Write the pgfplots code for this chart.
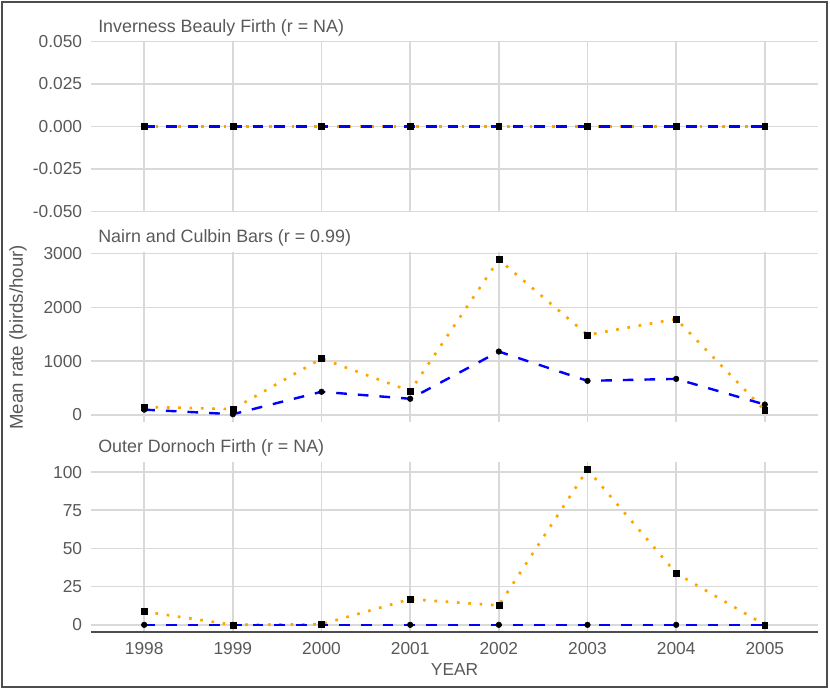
\documentclass[border=0pt]{standalone}
\usepackage{fontspec}
\setmainfont{Liberation Sans}
\usepackage{pgfplots}
\pgfplotsset{compat=1.18}
\definecolor{txtgray}{HTML}{595959}
\definecolor{gridgray}{HTML}{D9D9D9}
\definecolor{lorange}{HTML}{FFA500}
\definecolor{lblue}{HTML}{0000FF}
\definecolor{framegray}{HTML}{4D4D4D}
\pgfplotsset{
  panel/.style={
    scale only axis, width=545.25pt, height=127.5pt,
    anchor=north west,
    xmin=1997.4, xmax=2005.6,
    xtick={1998,1999,2000,2001,2002,2003,2004,2005},
    grid=major, grid style={gridgray, line width=1.2pt},
    axis line style={draw=none},
    major tick length=0pt, tick style={draw=none},
    /pgf/number format/assume math mode=true,
    /pgf/number format/1000 sep={},
    scaled ticks=false,
    ticklabel style={font=\fontsize{13}{15}\selectfont, text=txtgray},
    yticklabel style={anchor=east, inner sep=0pt, xshift=-6.5pt},
    xticklabel style={anchor=north, inner sep=0pt, yshift=-7.5pt},
    every axis title shift=0pt,
    title style={at={(0,1)}, anchor=base west, inner sep=0pt, xshift=5.25pt, yshift=7pt,
      font=\fontsize{13.4}{15}\selectfont, text=txtgray},
  },
  orangeline/.style={lorange, line width=2pt, dash pattern=on 2pt off 6.5pt},
  blueline/.style={lblue, line width=1.8pt, dash pattern=on 8pt off 8.25pt},
  circmarks/.style={only marks, mark=*, mark size=2.1pt, black},
  sqmarks/.style={only marks, mark=square*, mark size=2.2pt, black},
}
\begin{document}
\begin{tikzpicture}
\path[use as bounding box] (0,0) rectangle (622.5pt,-517.5pt);
\draw[framegray, line width=0.9pt] (1.5pt,-1.5pt) rectangle (620.25pt,-515.25pt);

% Panel 1
\begin{axis}[panel, at={(68.25pt,-31.1pt)},
  ymin=-0.05, ymax=0.05,
  ytick={-0.05,-0.025,0,0.025,0.05},
  yticklabel style={/pgf/number format/.cd, fixed, fixed zerofill, precision=3},
  xticklabels={},
  title={Inverness Beauly Firth (r = NA)}]
\addplot[orangeline] coordinates {(1998,0) (1999,0) (2000,0) (2001,0) (2002,0) (2003,0) (2004,0) (2005,0)};
\addplot[blueline] coordinates {(1998,0) (1999,0) (2000,0) (2001,0) (2002,0) (2003,0) (2004,0) (2005,0)};
\addplot[circmarks] coordinates {(1998,0) (1999,0) (2000,0) (2001,0) (2002,0) (2003,0) (2004,0) (2005,0)};
\addplot[sqmarks] coordinates {(1998,0) (1999,0) (2000,0) (2001,0) (2002,0) (2003,0) (2004,0) (2005,0)};
\end{axis}

% Panel 2
\begin{axis}[panel, at={(68.25pt,-189pt)},
  ymin=-130, ymax=3030,
  ytick={0,1000,2000,3000},
  xticklabels={},
  title={Nairn and Culbin Bars (r = 0.99)}]
\addplot[orangeline] coordinates {(1998,150) (1999,110) (2000,1050) (2001,445) (2002,2890) (2003,1490) (2004,1785) (2005,85)};
\addplot[blueline] coordinates {(1998,100) (1999,15) (2000,432) (2001,302) (2002,1180) (2003,635) (2004,672) (2005,195)};
\addplot[circmarks] coordinates {(1998,100) (1999,15) (2000,432) (2001,302) (2002,1180) (2003,635) (2004,672) (2005,195)};
\addplot[sqmarks] coordinates {(1998,150) (1999,110) (2000,1050) (2001,445) (2002,2890) (2003,1490) (2004,1785) (2005,85)};
\end{axis}

% Panel 3
\begin{axis}[panel, at={(68.25pt,-346.5pt)},
  ymin=-4.7, ymax=106.6,
  ytick={0,25,50,75,100},
  title={Outer Dornoch Firth (r = NA)},
  after end axis/.code={\draw[framegray, line width=1.4pt] (rel axis cs:0,0) -- (rel axis cs:1,0);}]
\addplot[orangeline] coordinates {(1998,8.7) (1999,0) (2000,0.4) (2001,16.8) (2002,12.7) (2003,101.7) (2004,33.8) (2005,0)};
\addplot[blueline] coordinates {(1998,0) (1999,0) (2000,0) (2001,0) (2002,0) (2003,0) (2004,0) (2005,0)};
\addplot[circmarks] coordinates {(1998,0) (1999,0) (2000,0) (2001,0) (2002,0) (2003,0) (2004,0) (2005,0)};
\addplot[sqmarks] coordinates {(1998,8.7) (1999,0) (2000,0.4) (2001,16.8) (2002,12.7) (2003,101.7) (2004,33.8) (2005,0)};
\end{axis}

\node[rotate=90, text=txtgray, font=\fontsize{14}{16}\selectfont] at (13.5pt,-253pt) {Mean rate (birds/hour)};
\node[text=txtgray, font=\fontsize{13}{15}\selectfont] at (340.9pt,-502.5pt) {YEAR};
\end{tikzpicture}
\end{document}
